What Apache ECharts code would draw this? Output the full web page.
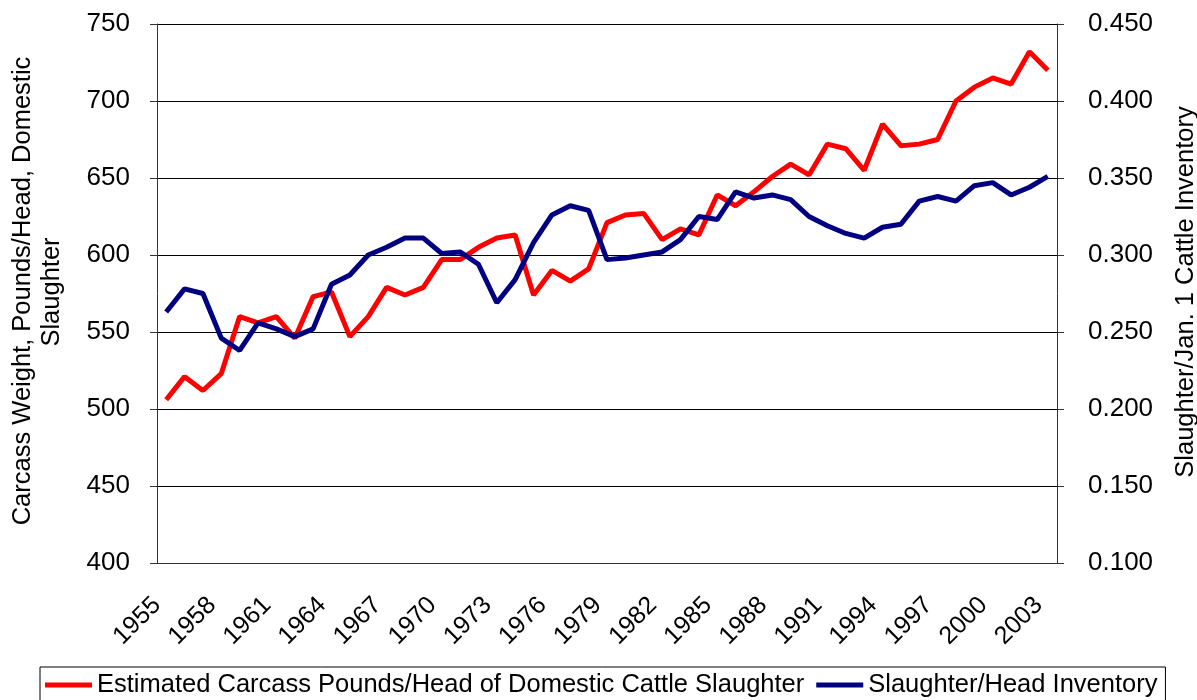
<!DOCTYPE html>
<html>
<head>
<meta charset="utf-8">
<script src="https://cdn.jsdelivr.net/npm/echarts@6/dist/echarts.min.js"></script>
<style>
html,body{margin:0;padding:0;background:#fff;}
#chart{width:1197px;height:700px;}
</style>
</head>
<body>
<div id="chart"></div>
<script>
var years = [];
for (var y = 1955; y <= 2003; y++) years.push(String(y));

var carcassWeight = [506,521,512,523,560,556,560,546,573,576,547,560,579,574,579,597,597,605,611,613,574,590,583,591,621,626,627,610,617,613,639,632,641,651,659,652,672,669,655,685,671,672,675,700,709,715,711,732,720];

var slaughterRatio = [0.263,0.278,0.275,0.246,0.238,0.256,0.252,0.247,0.252,0.281,0.287,0.300,0.305,0.311,0.311,0.301,0.302,0.294,0.269,0.284,0.308,0.326,0.332,0.329,0.297,0.298,0.300,0.302,0.310,0.325,0.323,0.341,0.337,0.339,0.336,0.325,0.319,0.314,0.311,0.318,0.320,0.335,0.338,0.335,0.345,0.347,0.339,0.344,0.351];

var seriesNames = ['Estimated Carcass Pounds/Head of Domestic Cattle Slaughter', 'Slaughter/Head Inventory'];
var leftTitle1 = 'Carcass Weight, Pounds/Head, Domestic';
var leftTitle2 = 'Slaughter';
var rightTitle = 'Slaughter/Jan. 1 Cattle Inventory';

var FONT = '"Liberation Sans", Arial, sans-serif';
var chart = echarts.init(document.getElementById('chart'), null, {renderer:'canvas'});
chart.setOption({
  animation: false,
  backgroundColor: '#fff',
  textStyle: {fontFamily: FONT, color: '#000'},
  grid: {left: 157, right: 140, top: 24, bottom: 137, containLabel: false},
  legend: {
    left: 40, top: 667,
    padding: [5, 8, 8, 5],
    borderColor: '#000', borderWidth: 1,
    itemWidth: 47, itemHeight: 5, itemGap: 12,
    icon: 'rect',
    textStyle: {fontFamily: FONT, fontSize: 25.5, color: '#000'},
    data: seriesNames
  },
  xAxis: {
    type: 'category',
    data: years,
    boundaryGap: true,
    axisLine: {lineStyle: {color: '#333', width: 1}},
    axisTick: {interval: 0, length: 6, lineStyle: {color: '#333'}},
    axisLabel: {interval: 2, rotate: 45, margin: 29, padding: [0, 13, 0, 0],
      fontFamily: FONT, fontSize: 25, color: '#000'},
    splitLine: {show: false}
  },
  yAxis: [
    {
      type: 'value', min: 400, max: 750, interval: 50,
      axisLine: {show: true, lineStyle: {color: '#333', width: 1}},
      axisTick: {show: true, length: 7, lineStyle: {color: '#333'}},
      axisLabel: {fontFamily: FONT, fontSize: 26, color: '#000', margin: 27},
      splitLine: {show: true, lineStyle: {color: '#000', width: 1}}
    },
    {
      type: 'value', min: 0.1, max: 0.45, interval: 0.05,
      position: 'right',
      axisLine: {show: true, lineStyle: {color: '#333', width: 1}},
      axisTick: {show: true, length: 7, lineStyle: {color: '#333'}},
      axisLabel: {fontFamily: FONT, fontSize: 26, color: '#000', margin: 31,
        formatter: function(v){ return v.toFixed(3); }},
      splitLine: {show: false}
    }
  ],
  graphic: [
    {type: 'text', x: 23, y: 291, rotation: Math.PI/2,
     style: {text: leftTitle1, font: '25.5px ' + FONT, fill: '#000', align: 'center', verticalAlign: 'middle'}},
    {type: 'text', x: 52, y: 292, rotation: Math.PI/2,
     style: {text: leftTitle2, font: '25.5px ' + FONT, fill: '#000', align: 'center', verticalAlign: 'middle'}},
    {type: 'text', x: 1186, y: 292, rotation: Math.PI/2,
     style: {text: rightTitle, font: '25.5px ' + FONT, fill: '#000', align: 'center', verticalAlign: 'middle'}}
  ],
  series: [
    {
      name: seriesNames[0], type: 'line', yAxisIndex: 0,
      data: carcassWeight, showSymbol: false, symbol: 'none',
      lineStyle: {color: '#FF0000', width: 5}, itemStyle: {color: '#FF0000'}
    },
    {
      name: seriesNames[1], type: 'line', yAxisIndex: 1,
      data: slaughterRatio, showSymbol: false, symbol: 'none',
      lineStyle: {color: '#000080', width: 5}, itemStyle: {color: '#000080'}
    }
  ]
});
</script>
</body>
</html>
